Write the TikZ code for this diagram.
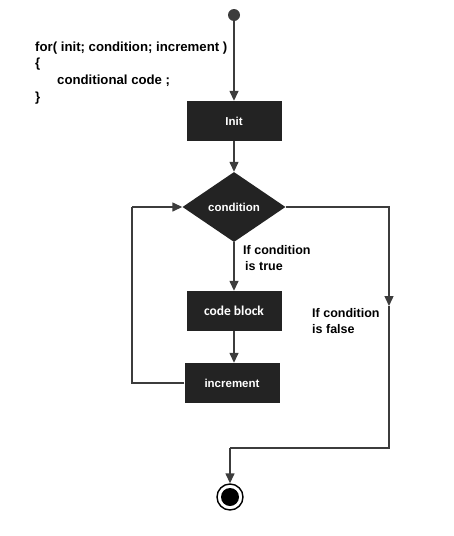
\documentclass[tikz,border=0pt]{standalone}
\usepackage{fontspec}
\setmainfont{Liberation Sans}
\newfontfamily\blockfont{Carlito}
\usetikzlibrary{arrows.meta}
\usetikzlibrary{shapes.geometric}
\definecolor{boxfill}{HTML}{232323}
\definecolor{linegray}{HTML}{3C3C3C}

\begin{document}
\begin{tikzpicture}[x=1pt, y=-1pt,
    block/.style={fill=boxfill, text=white, font=\bfseries\fontsize{11.5}{13}\selectfont, minimum width=95pt, minimum height=40pt, inner sep=0pt},
    decision/.style={diamond, fill=boxfill, text=white, font=\bfseries\fontsize{11.5}{13}\selectfont, minimum width=103pt, minimum height=70pt, inner sep=0pt, aspect=1.5},
    flow/.style={draw=linegray, line width=1.4pt, -{Triangle[length=10pt, width=9pt]}},
    wire/.style={draw=linegray, line width=1.4pt},
    note/.style={font=\bfseries\fontsize{12.5}{16}\selectfont, align=left, anchor=west, inner sep=0pt}]
                \useasboundingbox (0,0) rectangle (453,536);

                % Code of the loop
                \node[note, font=\bfseries\fontsize{13.2}{16.7}\selectfont, anchor=north west] (code) at (35,41.5)
                    {for( init; condition; increment )\\ \{\\ \hspace*{22pt}conditional code ;\\ \}};

                % Start and end points
                \node[circle, fill=linegray, minimum size=12pt, inner sep=0pt] (start) at (234,15) {};
                \node[circle, draw=black, line width=1.4pt, minimum size=26pt, inner sep=0pt] (stop) at (230,497) {};
                \fill[black] (stop.center) circle (9pt);

                % Boxes
                \node[block] (init) at (234,121) {Init};
                \node[decision] (cond) at (234,207) {condition};
                \node[block, font=\blockfont\bfseries\fontsize{13.5}{15}\selectfont] (body) at (234,311) {code block};
                \node[block] (incr) at (232,383) {increment};

                % Labels
                \node[note] (truelbl) at (243,258) {If condition\\ \hspace*{2pt}is true};
                \node[note] (falselbl) at (312,321) {If condition\\ is false};

                % Corners
                \coordinate (loopbot) at (132,383);
                \coordinate (looptop) at (132,207);
                \coordinate (falsetop) at (389,207);
                \coordinate (falsemid) at (389,306);
                \coordinate (falsebot) at (389,448);
                \coordinate (stoptop) at (230,448);

                % Connectors
                \draw[flow] (start) -- (init);
                \draw[flow] (init) -- (cond);
                \draw[flow] (cond) -- (body);
                \draw[flow] (body) -- (incr.north -| body);
                \draw[wire] (incr.west) -- (loopbot) -- (looptop);
                \draw[flow] (looptop) -- (cond.west);
                \draw[flow] (cond.east) -- (falsetop) -- (falsemid);
                \draw[wire] (falsemid) -- (falsebot) -- (stoptop);
                \draw[flow] (stoptop) -- (stop.north);
\end{tikzpicture}
\end{document}
